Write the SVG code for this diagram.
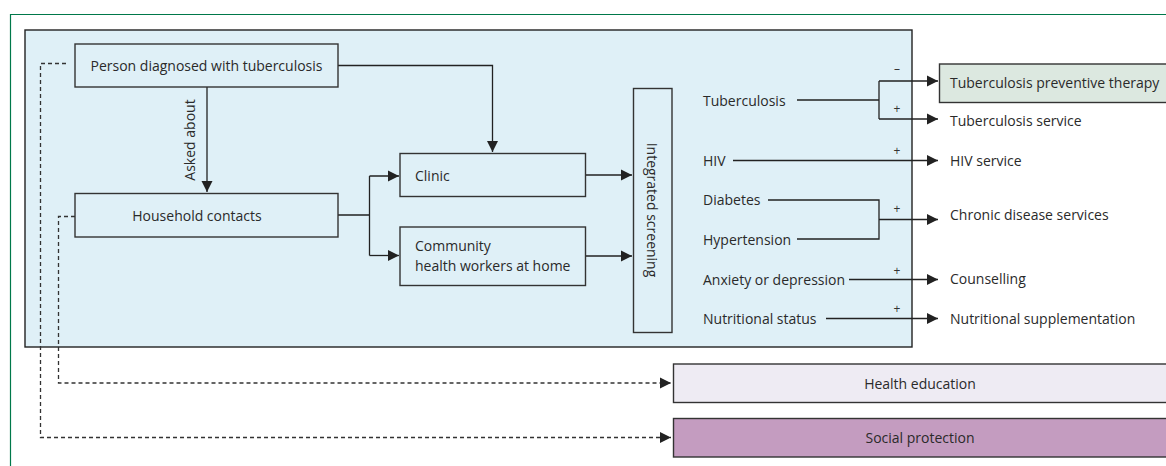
<svg xmlns="http://www.w3.org/2000/svg" width="1166" height="466" viewBox="0 0 1166 466">
<style>
text{font-family:"Open Sans","Liberation Sans",sans-serif;font-size:14px;fill:#2a2a2a}
.box{stroke:#333;stroke-width:1.4;fill:#dff0f7}
.ln{stroke:#222;stroke-width:1.3;fill:none}
.ds{stroke:#333;stroke-width:1.3;fill:none;stroke-dasharray:4 3}
.sg{font-size:12px;fill:#333}
</style>
<defs>
<marker id="ah" viewBox="0 0 10 10" refX="10" refY="5" markerWidth="11" markerHeight="12" markerUnits="userSpaceOnUse" orient="auto">
<path d="M0,0 L10,5 L0,10 z" fill="#222"/>
</marker>
</defs>
<rect x="0" y="0" width="1166" height="466" fill="#fff"/>
<path d="M10.5,466 V14.5 H1170" fill="none" stroke="#00784a" stroke-width="1.2"/>
<g id="panel"><rect x="25" y="30" width="887" height="317" fill="#dff0f7" stroke="#222" stroke-width="1.4"/></g>

<g id="connectors">
<path class="ln" d="M207,87 V192" marker-end="url(#ah)"/>
<path class="ln" d="M338,65.5 H492.5 V152" marker-end="url(#ah)"/>
<path class="ln" d="M338,215 H369.5 M369.5,176 V255.5 M369.5,176 H399" marker-end="url(#ah)"/>
<path class="ln" d="M369.5,255.5 H399" marker-end="url(#ah)"/>
<path class="ln" d="M586,175 H632" marker-end="url(#ah)"/>
<path class="ln" d="M586,256 H632" marker-end="url(#ah)"/>
<path class="ln" d="M797,100 H879 M879,81 V119 M879,81 H938" marker-end="url(#ah)"/>
<path class="ln" d="M879,119 H938" marker-end="url(#ah)"/>
<path class="ln" d="M733,160.5 H938" marker-end="url(#ah)"/>
<path class="ln" d="M768,200 H879 V239 H797 M879,219.5 H938" marker-end="url(#ah)"/>
<path class="ln" d="M849,279.5 H938" marker-end="url(#ah)"/>
<path class="ln" d="M826,318.5 H938" marker-end="url(#ah)"/>
<path class="ds" d="M66,63.5 H40.5 V437.5 H671" marker-end="url(#ah)"/>
<path class="ds" d="M75,216.5 H58.5 V383 H671" marker-end="url(#ah)"/>
<text x="190" y="140" text-anchor="middle" transform="rotate(-90 190 140)" dy="5">Asked about</text>
<text class="sg" x="897" y="73" text-anchor="middle">–</text>
<text class="sg" x="897" y="113" text-anchor="middle">+</text>
<text class="sg" x="897" y="154.5" text-anchor="middle">+</text>
<text class="sg" x="897" y="213" text-anchor="middle">+</text>
<text class="sg" x="897" y="274.5" text-anchor="middle">+</text>
<text class="sg" x="897" y="313" text-anchor="middle">+</text>
</g>

<g id="person"><rect class="box" x="75" y="44" width="263" height="43"/><text x="206.5" y="71" text-anchor="middle">Person diagnosed with tuberculosis</text></g>
<g id="household"><rect class="box" x="75" y="193.5" width="263" height="43.5"/><text x="197" y="220.5" text-anchor="middle">Household contacts</text></g>
<g id="clinic"><rect class="box" x="400" y="153.5" width="185.5" height="43"/><text x="415" y="180.5">Clinic</text></g>
<g id="community"><rect class="box" x="400" y="227" width="185.5" height="58.5"/><text x="415" y="250.5">Community</text><text x="415" y="270.5">health workers at home</text></g>
<g id="screening"><rect class="box" x="633.5" y="88.5" width="38.5" height="244"/><text x="652" y="210" text-anchor="middle" dy="5" transform="rotate(90 652 210)">Integrated screening</text></g>

<g id="tb"><text x="703" y="105.5">Tuberculosis</text></g>
<g id="hiv"><text x="703" y="165.5">HIV</text></g>
<g id="diabetes"><text x="703" y="205">Diabetes</text></g>
<g id="hypertension"><text x="703" y="244.5">Hypertension</text></g>
<g id="anxiety"><text x="703" y="284.5">Anxiety or depression</text></g>
<g id="nutrition"><text x="703" y="323.5">Nutritional status</text></g>

<g id="tpt"><rect x="939.5" y="64" width="240" height="38.5" fill="#dce8e0" stroke="#333" stroke-width="1.4"/><text x="950" y="88">Tuberculosis preventive therapy</text></g>
<g id="tbservice"><text x="950" y="125.5">Tuberculosis service</text></g>
<g id="hivservice"><text x="950" y="165.5">HIV service</text></g>
<g id="chronic"><text x="950" y="219.5">Chronic disease services</text></g>
<g id="counselling"><text x="950" y="283.5">Counselling</text></g>
<g id="supplement"><text x="950" y="323.5">Nutritional supplementation</text></g>

<g id="healthedu"><rect x="673.5" y="364" width="520" height="38.5" fill="#eeebf3" stroke="#333" stroke-width="1.4"/><text x="920" y="388.5" text-anchor="middle">Health education</text></g>
<g id="social"><rect x="673.5" y="418.5" width="520" height="38.5" fill="#c49cc0" stroke="#333" stroke-width="1.4"/><text x="920" y="443" text-anchor="middle">Social protection</text></g>
</svg>
